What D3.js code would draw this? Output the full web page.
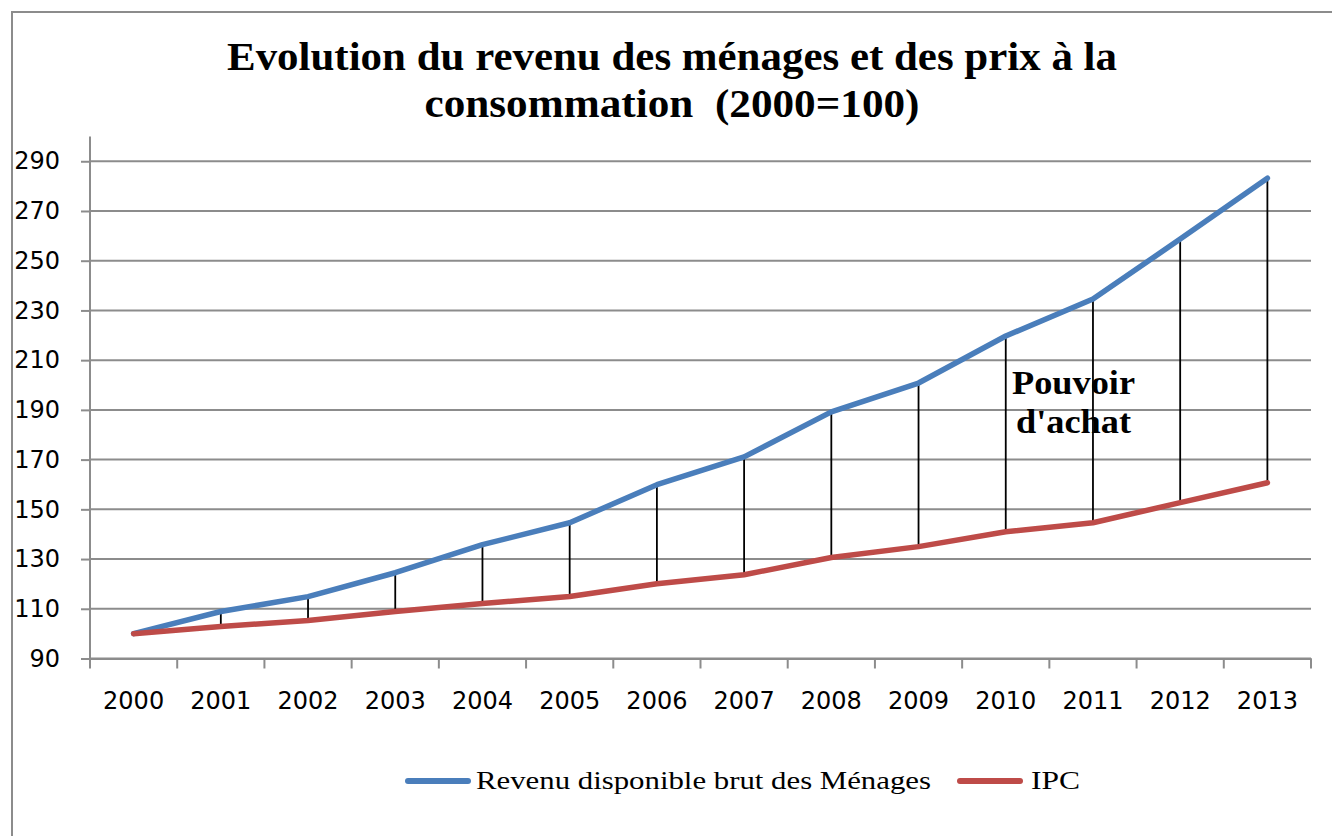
<!DOCTYPE html>
<html>
<head>
<meta charset="utf-8">
<script src="https://cdn.jsdelivr.net/npm/d3@7"></script>
<style>
  body { margin: 0; background: #fff; }
  svg { display: block; }
</style>
</head>
<body>
<div id="chart"></div>
<script>
const width = 1332, height = 836;

// data (2000 = 100)
const years = ["2000", "2001", "2002", "2003", "2004", "2005", "2006",
               "2007", "2008", "2009", "2010", "2011", "2012", "2013"];
const revenu = [100, 108.9, 114.9, 124.5, 135.8, 144.6, 159.9,
                171.1, 189.2, 200.8, 219.7, 234.6, 258.7, 283.2];
const ipc = [100, 102.9, 105.3, 108.9, 112.1, 114.9, 120.1,
             123.7, 130.6, 135.0, 141.0, 144.6, 152.7, 160.7];
const yTicks = [90, 110, 130, 150, 170, 190, 210, 230, 250, 270, 290];

const titleLines = ["Evolution du revenu des ménages et des prix à la",
                    "consommation  (2000=100)"];
const seriesNames = ["Revenu disponible brut des Ménages", "IPC"];
const colors = ["#4a7ebb", "#be4b48"];
const gridColor = "#8c8c8c";
const serif = "'Liberation Serif', 'Times New Roman', serif";

let svg = d3.select("#chart").append("svg")
    .attr("width", width)
    .attr("height", height);

// chart frame (only left and top edges are visible)
svg.append("path")
    .attr("d", `M12,${height} L12,12 L${width},12`)
    .attr("fill", "none")
    .attr("stroke", gridColor)
    .attr("stroke-width", 2);

// title
const titleLen = [890, 495];
svg.append("g")
    .selectAll("text")
    .data(titleLines)
    .enter()
    .append("text")
    .attr("x", 672)
    .attr("y", (d, i) => 70 + i * 47)
    .attr("text-anchor", "middle")
    .attr("font-family", serif)
    .attr("font-weight", "bold")
    .attr("font-size", 39)
    .attr("textLength", (d, i) => titleLen[i])
    .attr("lengthAdjust", "spacingAndGlyphs")
    .style("white-space", "pre")
    .text(d => d);

let x = d3.scaleBand()
    .domain(years)
    .range([90, 1311]);

let y = d3.scaleLinear()
    .domain([90, 300])
    .range([658.5, 136.4]);

let cx = d => x(d) + x.bandwidth() / 2;

// horizontal gridlines
svg.append("g")
    .selectAll("line")
    .data(yTicks)
    .enter()
    .append("line")
    .attr("x1", 90)
    .attr("x2", 1311)
    .attr("y1", d => y(d))
    .attr("y2", d => y(d))
    .attr("stroke", gridColor)
    .attr("stroke-width", 2);

// y axis
let yAxis = svg.append("g")
    .attr("transform", "translate(90,0)")
    .call(d3.axisLeft(y).tickValues(yTicks).tickSize(9).tickPadding(21).tickSizeOuter(0));

// x axis, ticks between categories
let xAxis = svg.append("g")
    .attr("transform", `translate(0,${y(90)})`)
    .call(d3.axisBottom(x).tickSize(0).tickPadding(33));

xAxis.append("g")
    .selectAll("line")
    .data(d3.range(years.length + 1))
    .enter()
    .append("line")
    .attr("x1", i => 90 + i * x.bandwidth())
    .attr("x2", i => 90 + i * x.bandwidth())
    .attr("y1", 0)
    .attr("y2", 10)
    .attr("stroke", gridColor)
    .attr("stroke-width", 2);

[yAxis, xAxis].forEach(ax => {
    ax.selectAll(".domain, .tick line")
        .attr("stroke", gridColor)
        .attr("stroke-width", 2);
    ax.selectAll("text")
        .attr("fill", "#000")
        .attr("font-family", "'DejaVu Sans', sans-serif")
        .attr("font-size", 24);
});
yAxis.select(".domain").attr("d", `M0,${y(300)}V${y(90)}`);

// purchasing power segments
svg.append("g")
    .selectAll("line")
    .data(years)
    .enter()
    .append("line")
    .attr("x1", d => cx(d))
    .attr("x2", d => cx(d))
    .attr("y1", (d, i) => y(revenu[i]))
    .attr("y2", (d, i) => y(ipc[i]))
    .attr("stroke", "#000")
    .attr("stroke-width", 1.8);

let line = d3.line()
    .x((d, i) => cx(years[i]))
    .y(d => y(d));

[revenu, ipc].forEach((s, k) => {
    svg.append("path")
        .datum(s)
        .attr("d", line)
        .attr("fill", "none")
        .attr("stroke", colors[k])
        .attr("stroke-width", 5.5)
        .attr("stroke-linecap", "round")
        .attr("stroke-linejoin", "round");
});

// annotation
const noteLen = [123, 115];
svg.append("g")
    .selectAll("text")
    .data(["Pouvoir", "d'achat"])
    .enter()
    .append("text")
    .attr("x", (d, i) => i ? 1016 : 1012)
    .attr("y", (d, i) => 394 + i * 39)
    .attr("font-family", serif)
    .attr("font-weight", "bold")
    .attr("font-size", 34)
    .attr("textLength", (d, i) => noteLen[i])
    .attr("lengthAdjust", "spacingAndGlyphs")
    .text(d => d);

// legend
const legendX = [408, 960];
const legendLen = [455, 49];
let legend = svg.append("g")
    .selectAll("g")
    .data(seriesNames)
    .enter()
    .append("g")
    .attr("transform", (d, i) => `translate(${legendX[i]},781)`);

legend.append("line")
    .attr("x1", 0)
    .attr("x2", 60)
    .attr("stroke", (d, i) => colors[i])
    .attr("stroke-width", 6)
    .attr("stroke-linecap", "round");

legend.append("text")
    .attr("x", (d, i) => i ? 71 : 68)
    .attr("y", 8)
    .attr("font-family", serif)
    .attr("font-size", 26)
    .attr("textLength", (d, i) => legendLen[i])
    .attr("lengthAdjust", "spacingAndGlyphs")
    .text(d => d);
</script>
</body>
</html>
